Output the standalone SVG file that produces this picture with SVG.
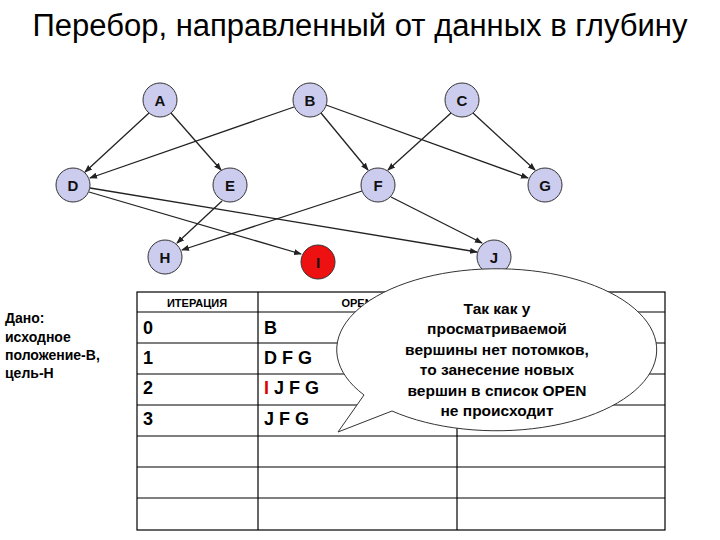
<svg xmlns="http://www.w3.org/2000/svg" width="720" height="540" viewBox="0 0 720 540">
<style>
.n{fill:#ccccee;stroke:#333;stroke-width:1}
.l{font-family:"Liberation Sans",Arial,sans-serif;font-weight:bold;font-size:15px;text-anchor:middle;fill:#111}
.e{stroke:#222;stroke-width:1.3;fill:none;marker-end:url(#a)}
.t{font-family:"Liberation Sans",Arial,sans-serif;font-size:14px;fill:#000}
.c{font-family:"Liberation Sans",Arial,sans-serif;font-weight:bold;font-size:18px;fill:#000}
.g{stroke:#000;stroke-width:1.2}
</style>
<defs><marker id="a" markerWidth="8" markerHeight="8" refX="7" refY="4" orient="auto" markerUnits="userSpaceOnUse"><path d="M0,1 L8,4 L0,7 z" fill="#222"/></marker></defs>
<rect width="720" height="540" fill="#fff"/>
<text x="360" y="36" font-family="Liberation Sans,Arial,sans-serif" font-size="31" text-anchor="middle">Перебор, направленный от данных в глубину</text>
<g id="edges">
<line class="e" x1="149" y1="113" x2="85" y2="172"/>
<line class="e" x1="171" y1="113" x2="221" y2="170"/>
<line class="e" x1="294" y1="107" x2="90" y2="178"/>
<line class="e" x1="321" y1="113" x2="368" y2="170"/>
<line class="e" x1="326" y1="105" x2="528" y2="178"/>
<line class="e" x1="451" y1="113" x2="388" y2="170"/>
<line class="e" x1="473" y1="113" x2="535" y2="170"/>
<line class="e" x1="90" y1="188" x2="477" y2="252"/>
<line class="e" x1="89" y1="192" x2="301" y2="254"/>
<line class="e" x1="222" y1="201" x2="177" y2="243"/>
<line class="e" x1="362" y1="191" x2="182" y2="250"/>
<line class="e" x1="391" y1="197" x2="482" y2="243"/>
</g>
<g id="A"><circle class="n" cx="160" cy="100" r="17"/><text class="l" x="160" y="106">A</text></g>
<g id="B"><circle class="n" cx="310" cy="100" r="17"/><text class="l" x="310" y="106">B</text></g>
<g id="C"><circle class="n" cx="462" cy="100" r="17"/><text class="l" x="462" y="106">C</text></g>
<g id="D"><circle class="n" cx="73" cy="185" r="17"/><text class="l" x="73" y="191">D</text></g>
<g id="E"><circle class="n" cx="230" cy="185" r="17"/><text class="l" x="230" y="191">E</text></g>
<g id="F"><circle class="n" cx="378" cy="185" r="17"/><text class="l" x="378" y="191">F</text></g>
<g id="G"><circle class="n" cx="545" cy="185" r="17"/><text class="l" x="545" y="191">G</text></g>
<g id="H"><circle class="n" cx="165" cy="257" r="17"/><text class="l" x="165" y="263">H</text></g>
<g id="I"><circle cx="318" cy="262" r="17" fill="#ee1111" stroke="#333"/><text class="l" x="318" y="268">I</text></g>
<g id="J"><circle class="n" cx="494" cy="257" r="17"/><text class="l" x="494" y="263">J</text></g>
<g id="given" class="t" font-weight="bold">
<text x="5" y="323">Дано:</text><text x="5" y="342">исходное</text><text x="5" y="360">положение-В,</text><text x="5" y="378">цель-Н</text>
</g>
<g id="table">
<rect x="137" y="292" width="528" height="238" fill="none" class="g"/>
<line class="g" x1="137" y1="312" x2="665" y2="312"/>
<line class="g" x1="137" y1="343" x2="665" y2="343"/>
<line class="g" x1="137" y1="374" x2="665" y2="374"/>
<line class="g" x1="137" y1="405" x2="665" y2="405"/>
<line class="g" x1="137" y1="436" x2="665" y2="436"/>
<line class="g" x1="137" y1="467" x2="665" y2="467"/>
<line class="g" x1="137" y1="498" x2="665" y2="498"/>
<line class="g" x1="258" y1="292" x2="258" y2="530"/>
<line class="g" x1="457" y1="292" x2="457" y2="530"/>
<text x="197" y="307" text-anchor="middle" font-family="Liberation Sans,Arial,sans-serif" font-weight="bold" font-size="11">ИТЕРАЦИЯ</text>
<text x="357" y="307" text-anchor="middle" font-family="Liberation Sans,Arial,sans-serif" font-weight="bold" font-size="11">OPEN</text>
<text class="c" x="143" y="334">0</text><text class="c" x="143" y="364">1</text><text class="c" x="143" y="394">2</text><text class="c" x="143" y="425">3</text>
<text class="c" x="264" y="334">B</text><text class="c" x="264" y="364">D F G</text>
<text class="c" x="264" y="394"><tspan fill="#dd0000">I</tspan> J F G</text>
<text class="c" x="264" y="425">J F G</text>
</g>
<g id="callout">
<path d="M364,395 A160,81 0 1 1 392,411 L338,432 Z" fill="#fff" stroke="#333" stroke-width="1"/>
<g font-family="Liberation Sans,Arial,sans-serif" font-weight="bold" font-size="15.5" text-anchor="middle">
<text x="497" y="314">Так как у</text><text x="497" y="334">просматриваемой</text><text x="497" y="355">вершины нет потомков,</text><text x="497" y="375">то занесение новых</text><text x="497" y="396">вершин в список OPEN</text><text x="497" y="416">не происходит</text>
</g>
</g>
</svg>
